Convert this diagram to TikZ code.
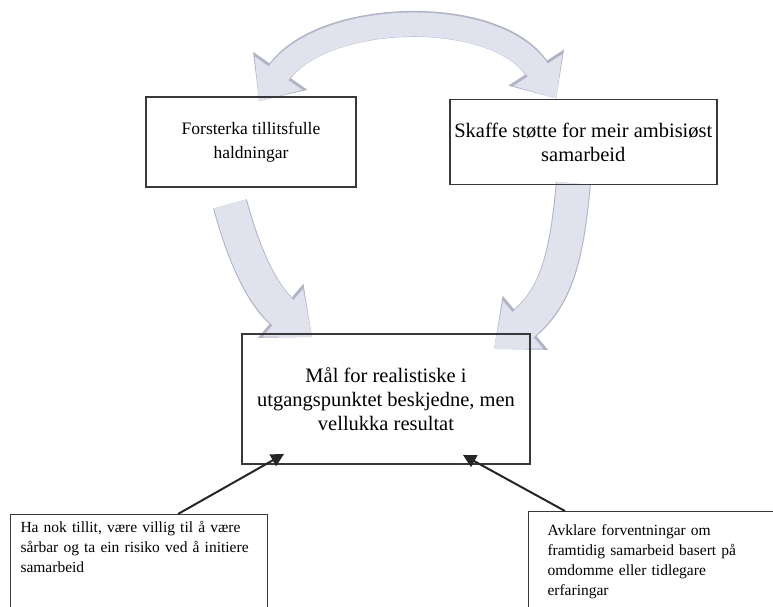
\documentclass[tikz,border=0pt]{standalone}
\usepackage{fontspec}
\setmainfont{Liberation Serif}
\usepackage{xcolor}
\usetikzlibrary{arrows.meta, positioning, backgrounds}

\definecolor{cyclefill}{RGB}{224,226,238}
\definecolor{cycleedge}{RGB}{178,180,198}
\definecolor{boxline}{RGB}{55,55,60}

\begin{document}
\begin{tikzpicture}[x=1pt, y=1pt, node distance=92pt, thick]
  \tikzstyle{box} = [rectangle, draw=boxline, line width=1.8pt, align=center, font=\fontsize{20.5}{24}\selectfont, inner sep=0pt]
  \tikzstyle{note} = [rectangle, draw=boxline, line width=1pt, align=left, anchor=north west, font=\fontsize{15.5}{20}\selectfont, inner xsep=10pt, inner ysep=7pt, text depth=90pt]
  \tikzstyle{cyclearrow} = [draw=cyclefill, line width=33pt, -{Triangle[width=60pt,length=38pt]},
    preaction={draw=cycleedge, line width=35pt, -{Triangle[width=68pt,length=41pt]}}]
  \tikzstyle{cyclearrows} = [draw=cyclefill, line width=24pt, {Triangle[width=56pt,length=34pt]}-{Triangle[width=56pt,length=34pt]},
    preaction={draw=cycleedge, line width=26pt, {Triangle[width=64pt,length=37pt]}-{Triangle[width=64pt,length=37pt]}}]
  \tikzstyle{pointer} = [draw=black!85, line width=2pt, -{Triangle[width=13pt,length=13pt]}]

  \useasboundingbox (0,0) rectangle (773,-606);
  \clip (0,0) rectangle (773,-606);

  \node[box, minimum width=210pt, minimum height=90pt, font=\fontsize{17.5}{24}\selectfont] (forsterka) at (251,-142) {Forsterka tillitsfulle\\haldningar};
  \node[box, minimum width=267pt, minimum height=85pt, right=92pt of forsterka] (skaffe) {Skaffe støtte for meir ambisiøst\\samarbeid};
  \node[box, minimum width=288pt, minimum height=130pt] (maal) at (386,-399) {Mål for realistiske i\\utgangspunktet beskjedne, men\\vellukka resultat};

  \node[note, text width=237pt] (hanok) at (10,-514) {Ha nok tillit, være villig til å være\\sårbar og ta ein risiko ved å initiere\\samarbeid};
  \node[note, text width=240pt, inner xsep=19pt, inner ysep=13pt] (avklare) at (528,-511) {Avklare forventningar om\\framtidig samarbeid basert på\\omdomme eller tidlegare\\erfaringar};

  \draw[pointer] ([xshift=168pt]hanok.north west) -- ([xshift=43pt,yshift=11pt]maal.south west);
  \draw[pointer] ([xshift=37pt]avklare.north west) -- ([xshift=-68pt,yshift=10pt]maal.south east);

  % the cycle, behind the boxes
  \begin{scope}[on background layer]
    \draw[cyclearrows] ([xshift=8pt,yshift=-5pt]forsterka.north) to[out=55, in=123, looseness=0.95] ([xshift=-27pt]skaffe.north);
    \draw[cyclearrow] ([xshift=-21pt,yshift=-16pt]forsterka.south) to[out=-75, in=140] ([xshift=71pt,yshift=-4pt]maal.north west);
    \draw[cyclearrow] ([xshift=-10pt,yshift=2pt]skaffe.south) to[out=-95, in=40, looseness=1.1] ([xshift=-37pt,yshift=-16pt]maal.north east);
  \end{scope}
\end{tikzpicture}
\end{document}
